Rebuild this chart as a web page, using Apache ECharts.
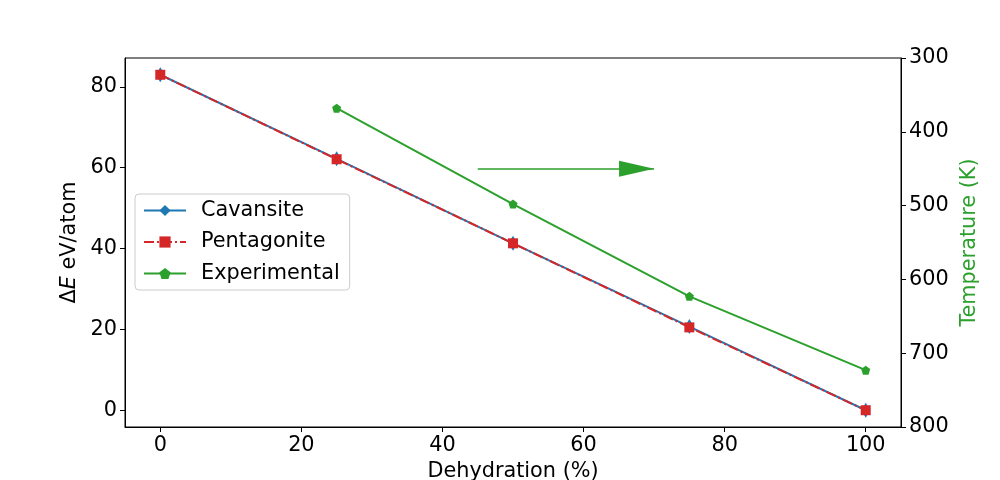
<!DOCTYPE html>
<html>
<head>
<meta charset="utf-8">
<script src="https://cdn.jsdelivr.net/npm/echarts@6/dist/echarts.min.js"></script>
<style>
  html, body { margin: 0; padding: 0; background: #fff; }
  #chart { width: 1000px; height: 480px; }
</style>
</head>
<body>
<div id="chart"></div>
<script>
// 数据
var dehydration = [0, 25, 50, 75, 100];
var cavansite = [83.0, 62.2, 41.3, 20.7, 0.0];
var pentagonite = [83.0, 62.1, 41.3, 20.5, 0.0];
var expX = [25, 50, 75, 100];
var expTemp = [368, 498, 623, 723];
var xTicks = [0, 20, 40, 60, 80, 100];
var yTicks = [0, 20, 40, 60, 80];
// 箭头 (x 起点/终点, 温度)
var arrowX = [45, 70];
var arrowT = 450;

function pairs(xs, ys) {
    return xs.map(function (x, i) { return [x, ys[i]]; });
}

var pentagon = 'path://M0,-1 L0.951,-0.309 L0.588,0.809 L-0.588,0.809 L-0.951,-0.309 Z';
var font = 'DejaVu Sans';
var fs = 20.8;
var tickLabel = { color: '#000', fontSize: fs, fontFamily: font, margin: 8 };

var myChart = echarts.init(document.getElementById('chart'));
var option = {
    animation: false,
    textStyle: { fontFamily: font },
    grid: {
        left: 125, right: 99, top: 58, bottom: 53,
        outerBoundsMode: 'none',
        show: true, borderColor: '#000', borderWidth: 1
    },
    legend: {
        orient: 'vertical',
        left: 135, top: 194,
        itemWidth: 42, itemHeight: 14, itemGap: 10.5,
        padding: [6, 10, 6, 8],
        borderColor: '#ccc', borderWidth: 1, borderRadius: 4,
        backgroundColor: 'rgba(255,255,255,0.8)',
        textStyle: { fontSize: fs, fontFamily: font, color: '#000', padding: [0, 0, 0, 10] },
        data: ['Cavansite', 'Pentagonite', 'Experimental']
    },
    xAxis: {
        type: 'value', min: -5, max: 105,
        name: 'Dehydration (%)', nameLocation: 'middle', nameGap: 32,
        nameTextStyle: { fontSize: fs, fontFamily: font, color: '#000' },
        axisLine: { onZero: false, lineStyle: { color: '#000' } },
        axisTick: { show: true, length: 5, inside: false, lineStyle: { color: '#000' }, customValues: xTicks },
        axisLabel: Object.assign({ customValues: xTicks }, tickLabel),
        splitLine: { show: false }
    },
    yAxis: [{
        type: 'value', min: -4.15, max: 87.15,
        name: '{a|Δ}{i|E}{a| eV/atom}', nameLocation: 'middle', nameGap: 42, nameRotate: 90,
        nameTextStyle: {
            rich: {
                a: { fontSize: fs, fontFamily: font, color: '#000' },
                i: { fontSize: fs, fontFamily: font, fontStyle: 'italic', color: '#000' }
            }
        },
        axisLine: { show: true, onZero: false, lineStyle: { color: '#000' } },
        axisTick: { show: true, length: 5, lineStyle: { color: '#000' }, customValues: yTicks },
        axisLabel: Object.assign({ customValues: yTicks }, tickLabel),
        splitLine: { show: false }
    }, {
        type: 'value', position: 'right', inverse: true,
        min: 300, max: 800, interval: 100,
        name: 'Temperature (K)', nameLocation: 'middle', nameGap: 50, nameRotate: 90,
        nameTextStyle: { fontSize: fs, fontFamily: font, color: '#2ca02c' },
        axisLine: { show: true, onZero: false, lineStyle: { color: '#000' } },
        axisTick: { show: true, length: 5, lineStyle: { color: '#000' } },
        axisLabel: tickLabel,
        splitLine: { show: false }
    }],
    series: [{
        name: 'Cavansite', type: 'line',
        data: pairs(dehydration, cavansite),
        symbol: 'diamond', symbolSize: [9, 15], showAllSymbol: true,
        itemStyle: { color: '#1f77b4' },
        lineStyle: { color: '#1f77b4', width: 2 },
        z: 2
    }, {
        name: 'Pentagonite', type: 'line',
        data: pairs(dehydration, pentagonite),
        symbol: 'rect', symbolSize: 10, showAllSymbol: true,
        itemStyle: { color: '#d62728' },
        lineStyle: { color: '#d62728', width: 2, type: [10, 3, 2, 3] },
        z: 3
    }, {
        name: 'Experimental', type: 'line', yAxisIndex: 1,
        data: pairs(expX, expTemp),
        symbol: pentagon, symbolSize: 9, showAllSymbol: true,
        itemStyle: { color: '#2ca02c' },
        lineStyle: { color: '#2ca02c', width: 2 },
        z: 2,
        markLine: {
            silent: true,
            symbol: ['none', 'triangle'],
            symbolSize: [16, 35],
            symbolOffset: [0, [0, 17.5]],
            label: { show: false },
            lineStyle: { color: '#2ca02c', width: 1.5, type: 'solid' },
            data: [[{ coord: [arrowX[0], arrowT] }, { coord: [arrowX[1], arrowT] }]]
        }
    }]
};
myChart.setOption(option);
window.addEventListener('resize', function () {
    myChart.resize();
});
</script>
</body>
</html>
